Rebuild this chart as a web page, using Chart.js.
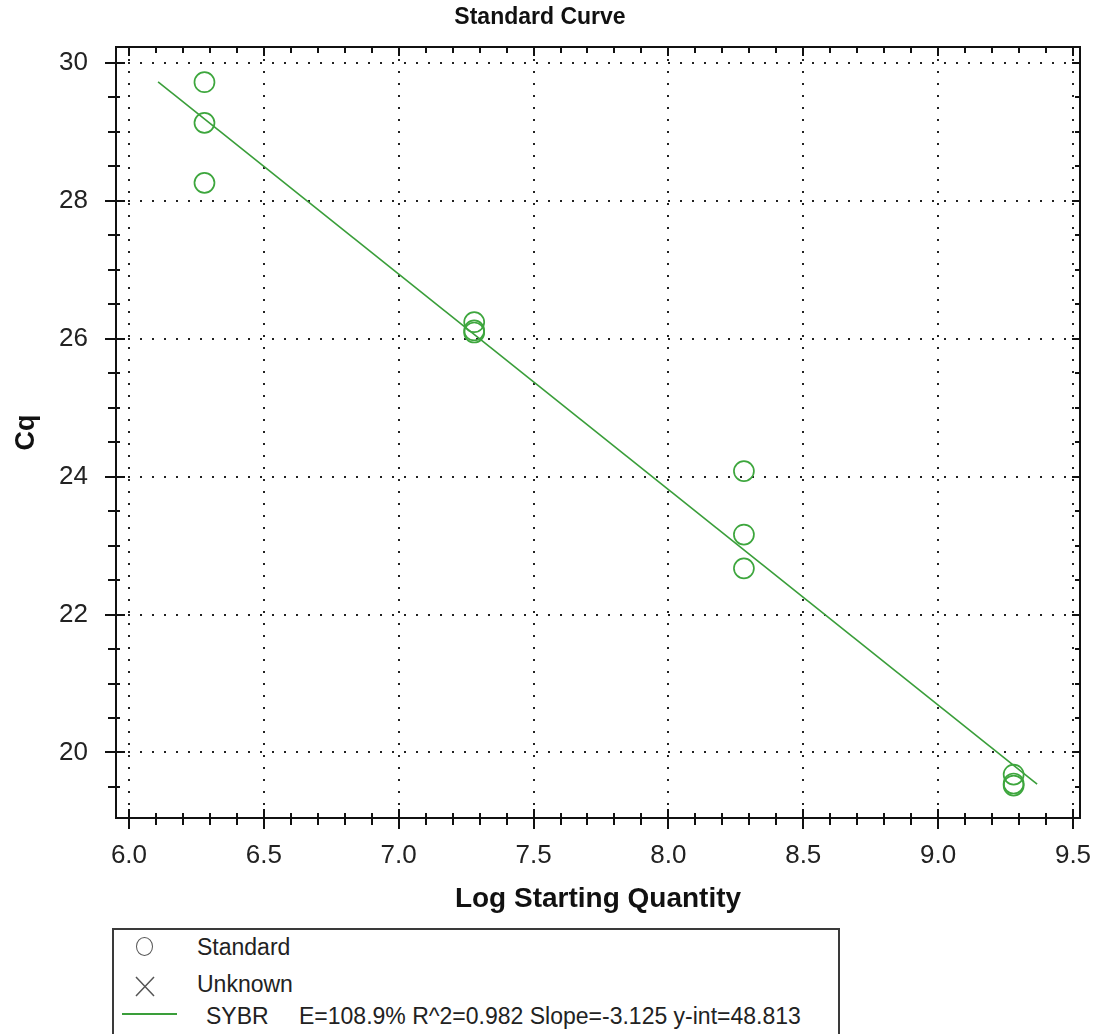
<!DOCTYPE html>
<html>
<head>
<meta charset="utf-8">
<title>Standard Curve</title>
<script src="https://cdn.jsdelivr.net/npm/chart.js@4.4.1/dist/chart.umd.min.js"></script>
<style>
  html, body { margin: 0; padding: 0; background: #fff; }
  body { width: 1094px; height: 1034px; position: relative; overflow: hidden;
         font-family: 'Liberation Sans', Arial, sans-serif; color: #222; }
  #curve { position: absolute; left: 0; top: 0; }
  .legend { position: absolute; left: 112px; top: 928px; width: 728px; height: 140px;
            border: 2px solid #3a3a3a; box-sizing: border-box; }
  .legend span { position: absolute; font-size: 23px; line-height: 24px; white-space: nowrap; }
  .legend .ring { position: absolute; left: 22px; top: 7px; width: 15px; height: 17px;
                  border: 1.6px solid #555; border-radius: 50%; }
  .legend svg { position: absolute; left: 21px; top: 46px; }
  .legend .swatch { position: absolute; left: 8px; top: 83px; width: 55px; height: 2px; background: #3a9e3a; }
</style>
</head>
<body>
<canvas id="curve" width="1094" height="925"></canvas>
<div class="legend">
  <div class="ring"></div>
  <span style="left:83px; top:5px;">Standard</span>
  <svg width="20" height="21" viewBox="0 0 20 21"><path d="M1 1 L19 20 M19 1 L1 20" stroke="#555" stroke-width="1.5" fill="none"/></svg>
  <span style="left:83px; top:42px;">Unknown</span>
  <div class="swatch"></div>
  <span style="left:92px; top:74px;">SYBR</span>
  <span style="left:185px; top:74px;">E=108.9% R^2=0.982 Slope=-3.125 y-int=48.813</span>
</div>
<script>
// Standard curve replicates: log starting quantity vs Cq
const logQty = [6.28, 6.28, 6.28, 7.28, 7.28, 7.28, 8.28, 8.28, 8.28, 9.28, 9.28, 9.28];
const cqValues = [29.72, 29.13, 28.26, 26.24, 26.12, 26.09, 24.08, 23.16, 22.67, 19.68, 19.55, 19.52];

// linear fit reported for the SYBR run
const fitSlope = -3.125;
const fitIntercept = 48.813;
const fitRange = [6.108, 9.367];

const xTicks = [6.0, 6.5, 7.0, 7.5, 8.0, 8.5, 9.0, 9.5];
const yTicks = [20, 22, 24, 26, 28, 30];

const FONT = "'Liberation Sans', Arial, sans-serif";
const GREEN_PT = '#3da63d';
const GREEN_LINE = '#3a9e3a';

const standardPoints = logQty.map((x, i) => ({ x: x, y: cqValues[i] }));
const fitPoints = fitRange.map(x => ({ x: x, y: fitSlope * x + fitIntercept }));

// box around the plot with major/minor tick marks on all four sides
const frameTicks = {
  id: 'frameTicks',
  afterDraw(chart) {
    const { ctx, chartArea: a, scales: { x, y } } = chart;
    ctx.save();
    ctx.strokeStyle = '#111';
    ctx.lineWidth = 2;
    ctx.strokeRect(a.left, a.top, a.right - a.left, a.bottom - a.top);

    ctx.beginPath();
    for (let i = Math.ceil(x.min * 10); i <= Math.floor(x.max * 10); i++) {
      const px = Math.round(x.getPixelForValue(i / 10));
      const major = i % 5 === 0;
      ctx.moveTo(px, a.bottom - (major ? 9 : 5));
      ctx.lineTo(px, a.bottom + (major ? 11 : 7));
      ctx.moveTo(px, a.top);
      ctx.lineTo(px, a.top + (major ? 9 : 6));
    }
    for (let i = Math.ceil(y.min * 2); i <= Math.floor(y.max * 2); i++) {
      const py = Math.round(y.getPixelForValue(i / 2));
      const major = i % 4 === 0;
      ctx.moveTo(a.left - (major ? 11 : 8), py);
      ctx.lineTo(a.left + (major ? 9 : 4), py);
      ctx.moveTo(a.right, py);
      ctx.lineTo(a.right - (major ? 8 : 5), py);
    }
    ctx.stroke();
    ctx.restore();
  }
};

const chartCtx = document.getElementById('curve').getContext('2d');
new Chart(chartCtx, {
  type: 'scatter',
  data: {
    datasets: [{
      label: 'Standard',
      data: standardPoints,
      pointStyle: 'circle',
      pointRadius: 10,
      pointBorderWidth: 1.7,
      borderColor: GREEN_PT,
      backgroundColor: 'rgba(0,0,0,0)'
    }, {
      label: 'SYBR',
      data: fitPoints,
      showLine: true,
      pointRadius: 0,
      borderWidth: 1.6,
      borderColor: GREEN_LINE,
      backgroundColor: GREEN_LINE
    }]
  },
  options: {
    responsive: false,
    animation: false,
    devicePixelRatio: 1,
    layout: { padding: { left: 0, right: 14, top: 0, bottom: 0 } },
    plugins: {
      legend: { display: false },
      tooltip: { enabled: false },
      title: {
        display: true,
        text: 'Standard Curve',
        color: '#111',
        font: { family: FONT, size: 23, weight: 'bold', lineHeight: 1.2 },
        padding: { top: 4, bottom: 15.4 }
      }
    },
    scales: {
      x: {
        type: 'linear',
        min: 5.952,
        max: 9.526,
        afterBuildTicks: s => { s.ticks = xTicks.map(v => ({ value: v })); },
        afterFit: s => { s.height = 107; s.paddingLeft = 0; s.paddingRight = 0; },
        ticks: {
          color: '#222',
          font: { family: FONT, size: 26 },
          padding: 22,
          maxRotation: 0,
          autoSkip: false,
          callback: v => v.toFixed(1)
        },
        grid: { color: '#222', lineWidth: 2, drawTicks: false },
        border: { display: false, dash: [2, 10] },
        title: {
          display: true,
          text: 'Log Starting Quantity',
          color: '#111',
          font: { family: FONT, size: 28, weight: 'bold', lineHeight: 1.2 },
          padding: { top: 0, bottom: 9 }
        }
      },
      y: {
        type: 'linear',
        min: 19.05,
        max: 30.23,
        afterBuildTicks: s => { s.ticks = yTicks.map(v => ({ value: v })); },
        afterFit: s => { s.width = 116; s.paddingTop = 0; s.paddingBottom = 0; },
        ticks: {
          color: '#222',
          font: { family: FONT, size: 26 },
          padding: 28,
          autoSkip: false,
          callback: v => String(v)
        },
        grid: { color: '#222', lineWidth: 2, drawTicks: false },
        border: { display: false, dash: [2, 10] },
        title: {
          display: true,
          text: 'Cq',
          color: '#111',
          font: { family: FONT, size: 27, weight: 'bold', lineHeight: 1.2 },
          padding: { top: 10.8 }
        }
      }
    }
  },
  plugins: [frameTicks]
});
</script>
</body>
</html>
